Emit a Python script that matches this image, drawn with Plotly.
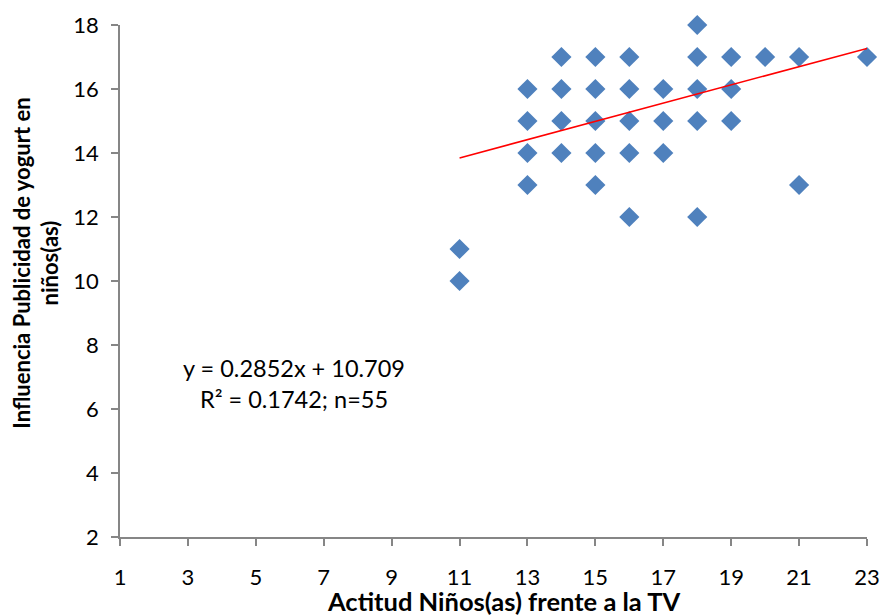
import plotly.graph_objects as go

# Data
x_vals = [11, 11,
          13, 13, 13, 13,
          14, 14, 14, 14,
          15, 15, 15, 15, 15,
          16, 16, 16, 16, 16,
          17, 17, 17,
          18, 18, 18, 18, 18,
          19, 19, 19,
          20,
          21, 21,
          23]
y_vals = [11, 10,
          16, 15, 14, 13,
          17, 16, 15, 14,
          17, 16, 15, 14, 13,
          17, 16, 15, 14, 12,
          16, 15, 14,
          18, 17, 16, 15, 12,
          17, 16, 15,
          17,
          17, 13,
          17]

slope = 0.2852
intercept = 10.709
trend_x = [11, 23]
trend_y = [slope * v + intercept for v in trend_x]

x_ticks = [1, 3, 5, 7, 9, 11, 13, 15, 17, 19, 21, 23]
y_ticks = [2, 4, 6, 8, 10, 12, 14, 16, 18]

FONT = "Lato"

fig = go.Figure()
fig.add_trace(go.Scatter(
    x=x_vals, y=y_vals, mode="markers",
    marker=dict(symbol="diamond", size=15.5, color="#4F81BD",
                line=dict(width=0)),
    showlegend=False, hoverinfo="x+y", cliponaxis=False))
fig.add_trace(go.Scatter(
    x=trend_x, y=trend_y, mode="lines",
    line=dict(color="#FF0000", width=1.5),
    showlegend=False, hoverinfo="skip"))

axis_common = dict(
    showgrid=False, zeroline=False, showline=True,
    linecolor="#868686", linewidth=1.5,
    ticks="outside", ticklen=7, tickcolor="#868686", tickwidth=1.5,
    tickfont=dict(family=FONT, size=22, color="#000000"),
    ticklabeloverflow="allow",
)

fig.update_layout(
    width=883, height=616, autosize=False,
    margin=dict(l=120, r=16, t=25, b=79, autoexpand=False),
    plot_bgcolor="white", paper_bgcolor="white",
    xaxis=dict(range=[1, 23], tickvals=x_ticks, ticklabelstandoff=13,
               automargin=False, **axis_common),
    yaxis=dict(range=[2, 18], tickvals=y_ticks, ticklabelstandoff=8,
               automargin=False, **axis_common),
    annotations=[
        dict(text="y = 0.2852x + 10.709<br>R² = 0.1742; n=55",
             x=6.13, y=6.8, xref="x", yref="y", showarrow=False,
             font=dict(family=FONT, size=23.5, color="#000000"),
             align="center"),
        dict(text="<b>Actitud Niños(as) frente a la TV</b>",
             x=0.5147, y=-0.125, xref="paper", yref="paper",
             xanchor="center", yanchor="middle", showarrow=False,
             font=dict(family=FONT, size=25.5, color="#000000")),
        dict(text="<b>Influencia Publicidad de yogurt en<br>niños(as)</b>",
             x=-0.113, y=0.535, xref="paper", yref="paper",
             xanchor="center", yanchor="middle", showarrow=False,
             textangle=-90,
             font=dict(family=FONT, size=22, color="#000000")),
    ],
)

fig.write_html("out.html",
               config={"displayModeBar": False, "responsive": False},
               post_script="document.body.style.margin='0';document.body.style.overflow='hidden';")
